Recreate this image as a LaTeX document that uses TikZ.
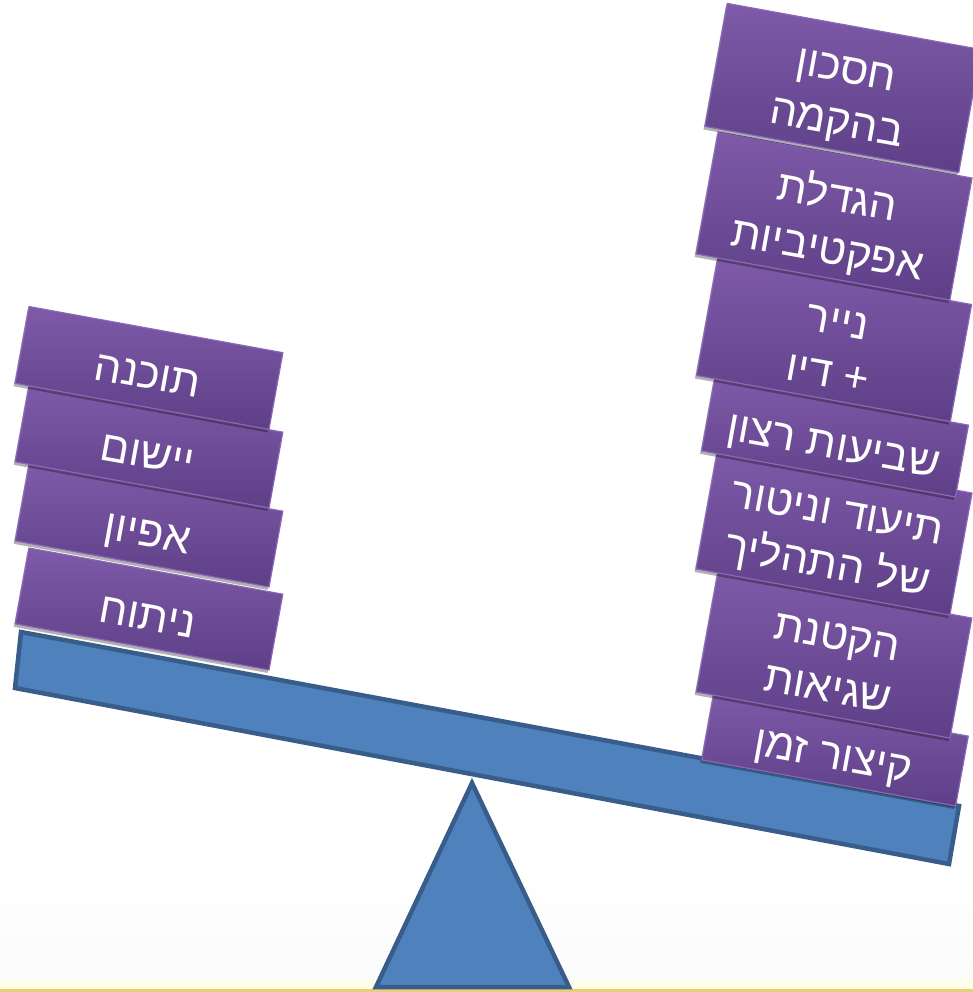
\documentclass[tikz,border=0pt]{standalone}
\usepackage{fontspec}
\newfontfamily\heb[Script=Hebrew]{Liberation Sans}
\TeXXeTstate=1
\usetikzlibrary{shadows}
\definecolor{ptop}{HTML}{7E5AA8}
\definecolor{pbot}{HTML}{5E3F87}
\definecolor{pedge}{HTML}{8A68B6}
\definecolor{bfill}{HTML}{4F81BD}
\definecolor{bedge}{HTML}{385D8A}
\definecolor{goldline}{HTML}{E6CF78}
\tikzset{
  brick/.style={rotate=-10.3, minimum width=258pt, inner sep=0pt, outer sep=0pt,
    top color=ptop, bottom color=pbot, draw=pedge, line width=1.2pt,
    text=white, align=center, font=\heb\fontsize{43}{53}\selectfont,
    drop shadow={shadow xshift=-1.5pt, shadow yshift=-3pt, opacity=0.3, fill=black}},
  wood/.style={fill=bfill, draw=bedge, line width=4.5pt, line join=miter}
}
\newcommand{\topstr}{\rule{0pt}{54pt}}
\newcommand{\botstr}{\rule[-12pt]{0pt}{0pt}}
\begin{document}
\begin{tikzpicture}[x=1pt,y=-1pt]
\useasboundingbox (0,0) rectangle (973,992);
% background
\shade[top color=white, bottom color=black!1.5] (0,860) rectangle (973,975);
\shade[top color=black!1.5, bottom color=yellow!12] (0,975) rectangle (973,989);
\fill[goldline] (0,989) rectangle (973,992);
% beam
\draw[wood] (21,632) -- (959,806) -- (949,864) -- (15,688) -- cycle;
% fulcrum
\draw[wood] (472,783) -- (569,987) -- (376,987) -- cycle;
% left stack (bottom first)
\node[brick, minimum height=77pt] (l4) at (149,609) {\topstr\beginR ניתוח\endR\botstr};
\node[brick, minimum height=77pt] (l3) at (149,526) {\topstr\beginR אפיון\endR\botstr};
\node[brick, minimum height=77pt] (l2) at (149,447) {\topstr\beginR יישום\endR\botstr};
\node[brick, minimum height=78pt] (l1) at (149,368) {\topstr\beginR תוכנה\endR\botstr};
% right stack (bottom first)
\node[brick, minimum height=71pt] (r7) at (835,748) {\topstr\beginR קיצור זמן\endR\botstr};
\node[brick, minimum height=122pt] (r6) at (834,655) {\topstr\beginR הקטנת\endR\\\beginR שגיאות\endR\botstr};
\node[brick, minimum height=124pt] (r5) at (834,531) {\topstr\beginR תיעוד וניטור\endR\\\beginR של התהליך\endR\botstr};
\node[brick, minimum height=73pt] (r4) at (835,438) {\topstr\beginR שביעות רצון\endR\botstr};
\node[brick, minimum height=115pt] (r3) at (834,340) {\topstr\beginR נייר\endR\\\beginR + דיו\endR\botstr};
\node[brick, minimum height=124pt] (r2) at (834,216) {\topstr\beginR הגדלת\endR\\\beginR אפקטיביות\endR\botstr};
\node[brick, minimum height=125pt] (r1) at (843,88) {\topstr\beginR חסכון\endR\\\beginR בהקמה\endR\botstr};
\end{tikzpicture}
\end{document}
